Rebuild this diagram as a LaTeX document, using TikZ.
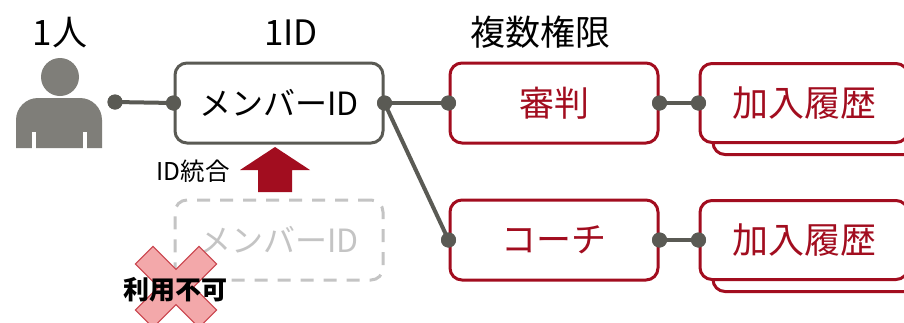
\documentclass[tikz,border=0pt]{standalone}
\usepackage{fontspec}
\setmainfont{Noto Sans CJK JP}
\definecolor{lgray}{HTML}{5A5A54}
\definecolor{pgray}{HTML}{7F7E79}
\definecolor{dgray}{HTML}{C4C4C4}
\definecolor{dred}{HTML}{A20D1F}
\definecolor{xpink}{HTML}{F3A8AA}
\definecolor{xred}{HTML}{C9434C}
\begin{document}
\begin{tikzpicture}[x=1pt,y=-1pt,
  gline/.style={line width=4pt, draw=lgray},
  dot/.style={circle, fill=lgray, inner sep=0pt, minimum size=15pt},
  basebox/.style={line width=3pt, rounded corners=12pt, minimum width=208pt, minimum height=80pt, fill=white, inner sep=0pt},
  idbox/.style={basebox, draw=lgray, font=\fontsize{32}{36}\selectfont},
  ghostbox/.style={basebox, draw=dgray, dash pattern=on 13pt off 10pt, text=dgray, font=\fontsize{32}{36}\selectfont},
  rolebox/.style={basebox, draw=dred, text=dred, font=\fontsize{35}{40}\selectfont},
  histbox/.style={basebox, minimum height=79pt, draw=dred, text=dred, font=\fontsize{36}{40}\selectfont},
  toplabel/.style={font=\fontsize{35}{40}\selectfont, inner sep=0pt}]
\useasboundingbox (0,0) rectangle (904,322);
\fill[white] (0,0) rectangle (904,322);

% labels
\node[toplabel] (l1) at (60,33) {1人};
\node[toplabel] (l2) at (291,33) {1ID};
\node[toplabel] (l3) at (540,32) {複数権限};

% person icon
\fill[pgray] (60,77) circle (19pt);
\fill[pgray] (16,148) [rounded corners=22pt] -- (16,98) -- (102,98) [sharp corners] -- (102,148) -- cycle;
\fill[white] (32,132) rectangle (36,149);
\fill[white] (83,132) rectangle (87,149);

% boxes
\node[idbox] (b1) at (279,103) {メンバーID};
\node[ghostbox] (b2) at (279,240) {メンバーID};
\node[rolebox] (s) at (554,103) {審判};
\node[rolebox] (c) at (554,240) {コーチ};
\node[histbox] (h1s) at (817,115) {};
\node[histbox] (h1) at (804,103) {加入履歴};
\node[histbox] (h2s) at (817,252) {};
\node[histbox] (h2) at (804,240) {加入履歴};

% dots
\node[dot] (pd) at (115,102) {};
\node[dot] (b1w) at (b1.west) {};
\node[dot] (b1e) at (b1.east) {};
\node[dot] (sw) at (s.west) {};
\node[dot] (se) at (s.east) {};
\node[dot] (cw) at (c.west) {};
\node[dot] (ce) at (c.east) {};
\node[dot] (h1w) at (h1.west) {};
\node[dot] (h2w) at (h2.west) {};

% connectors
\draw[gline] (pd.center) -- (b1w.center);
\draw[gline] (b1e.center) -- (sw.center);
\draw[gline] (b1e.center) -- (cw.center);
\draw[gline] (se.center) -- (h1w.center);
\draw[gline] (ce.center) -- (h2w.center);
\foreach \d in {pd,b1w,b1e,sw,se,cw,ce,h1w,h2w} \fill[lgray] (\d) circle (7.5pt);

% merge arrow
\fill[dred] (275,147) -- (310,170) -- (292,170) -- (292,192) -- (258,192) -- (258,170) -- (240,170) -- cycle;
\node[font=\fontsize{24.5}{28}\selectfont, inner sep=0pt] (merge) at (193,171) {ID統合};

% cross
\begin{scope}[shift={(176,287)}, rotate=45]
\filldraw[fill=xpink, draw=xred, line width=1pt] (12.5,12.5) -- (45,12.5) -- (45,-12.5) -- (12.5,-12.5) -- (12.5,-45) -- (-12.5,-45) -- (-12.5,-12.5) -- (-45,-12.5) -- (-45,12.5) -- (-12.5,12.5) -- (-12.5,45) -- (12.5,45) -- cycle;
\end{scope}
\node[font=\fontsize{26}{30}\selectfont\bfseries, inner sep=0pt] (nouse) at (175,290) {利用不可};
\end{tikzpicture}
\end{document}
